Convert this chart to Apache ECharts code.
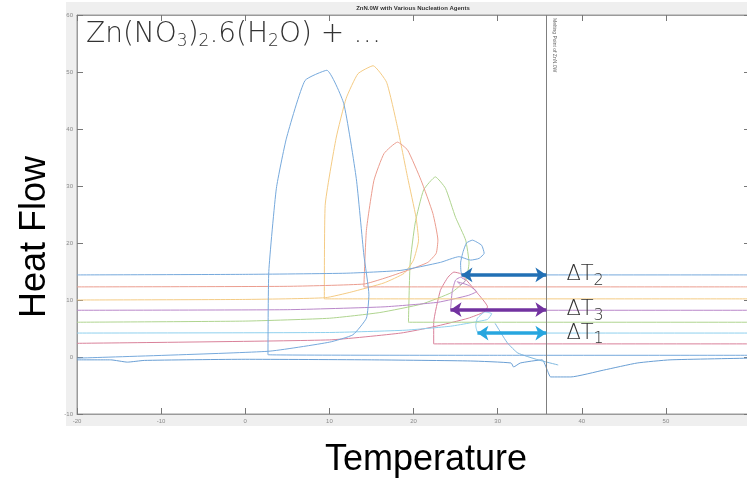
<!DOCTYPE html>
<html>
<head>
<meta charset="utf-8">
<script src="https://cdn.jsdelivr.net/npm/echarts@6/dist/echarts.min.js"></script>
<style>
html, body { margin: 0; padding: 0; background: #fff; }
#main { width: 747px; height: 479px; }
</style>
</head>
<body>
<div id="main"></div>
<script>
var xTicks = [-20, -10, 0, 10, 20, 30, 40, 50, 60];
var yTicks = [-10, 0, 10, 20, 30, 40, 50, 60];

// DSC cooling runs, [temperature, heat flow]
var runBlue = [[60, 0.3], [30, 0.3], [2.7, 0.4], [2.8, 15], [3.7, 29.6], [4.9, 38.4], [7.1, 48.5], [9.7, 50.3], [11.7, 44.5], [13.2, 31.3], [14.1, 17.9], [14.7, 10.9], [14.4, 6.8], [12.8, 3.9], [10, 2.6], [2.7, 1.0], [-20, -0.2]];
var runYellow = [[60, 10.2], [9.4, 10.2], [9.5, 26.6], [10.8, 38.4], [12.0, 45.4], [13.4, 49.7], [15.2, 51.1], [16.8, 48.2], [18.1, 40.3], [19.3, 31.5], [20.3, 24.5], [20.6, 20.5], [20.0, 17], [18.9, 14.7], [16.5, 13], [12.6, 11.4], [9.5, 10.4], [0, 10.1], [-20, 10.0]];
var runOrange = [[60, 12.3], [14.1, 12.3], [14.4, 22.2], [15.3, 31], [16.5, 35.7], [18.1, 37.7], [19.3, 36.3], [20.9, 31], [22.3, 25.2], [22.9, 20.5], [22.7, 18.2], [21.7, 16.6], [19.3, 15.2], [16.5, 13.8], [14.1, 12.8], [5, 12.4], [-20, 12.3]];
var runGreen = [[60, 6.1], [19.4, 6.1], [19.6, 16.5], [20.2, 23.5], [21.2, 29.3], [22.6, 31.6], [23.8, 29.6], [25, 24.5], [26.2, 20.5], [26.6, 16.5], [26.2, 13.5], [24.5, 11.3], [21, 9.3], [16, 7.8], [10, 6.8], [0, 6.3], [-20, 6.1]];
var runBlueSmall = [[60, 14.4], [25.8, 14.4], [25.6, 16.5], [25.9, 18.5], [26.3, 20.0], [27.0, 20.5], [28.1, 19.6], [28.4, 18.2], [27.8, 17.3], [26.8, 17.0], [25.4, 17.6], [23.2, 16.6], [18.5, 15.2], [12, 14.7], [0, 14.5], [-20, 14.4]];
var runPurple = [[60, 8.2], [24.4, 8.2], [24.6, 11.5], [25.0, 13.5], [25.6, 14.0], [26.2, 13.4], [25.6, 12.7], [25.2, 13.2], [26.5, 12.6], [27.5, 11.5], [26.5, 10.8], [22.9, 9.6], [16.5, 8.8], [5, 8.3], [-20, 8.2]];
var runRed = [[60, 2.3], [22.4, 2.3], [22.4, 6.0], [23.2, 11.7], [24.1, 14.0], [24.8, 14.9], [25.6, 14.6], [27.6, 11.2], [28.8, 8.8], [28.4, 7.9], [26.5, 6.8], [22.4, 5.3], [18.5, 4.2], [10, 3.0], [-20, 2.4]];
var runCyan = [[60, 4.2], [27.7, 4.2], [27.4, 5.5], [27.6, 6.8], [28.5, 7.9], [29.3, 7.6], [28.8, 6.6], [26.8, 6.0], [24.4, 5.4], [19, 4.7], [10, 4.3], [-20, 4.2]];
var runCyanTail = [[29.7, 5.9], [30.7, 3.5], [31.2, 2.4], [32.4, 0.7], [34.8, -0.5], [37.2, -1.4]];
var runBase = [[-20, -0.5], [-16, -0.5], [-14, -0.9], [-12, -0.6], [0, -0.4], [15, -0.5], [26.8, -0.7], [31.6, -1.05], [31.9, -1.75], [32.7, -1.05], [35.3, -0.5], [35.9, -2.3], [36.3, -3.5], [38.7, -3.5], [42.6, -2.3], [46.6, -1.05], [50.5, -0.5], [60, -0.2]];

var meltingPoint = 35.8;
// supercooling arrows
var arrowNames = ['2', '3', '1'];
var arrowStart = [25.7, 24.4, 27.6];
var arrowLevel = [14.4, 8.3, 4.2];

var chart = echarts.init(document.getElementById('main'));

var tickLabel = { color: '#8a8a8a', fontSize: 6, margin: 4, fontFamily: 'Liberation Sans' };
var frame = { show: true, onZero: false, lineStyle: { color: '#9a9a9a', width: 1 } };
var tick = { show: true, inside: true, length: 6, lineStyle: { color: '#777' } };

function run(data, color) {
  return {
    type: 'line',
    data: data,
    showSymbol: false,
    symbol: 'none',
    smooth: 0.15,
    lineStyle: { color: color, width: 1 },
    z: 3
  };
}

var series = [
  run(runBase, '#6a9fd4'),
  run(runRed, '#d9819a'),
  run(runCyan, '#8fd0ee'),
  run(runCyanTail, '#7fb9e0'),
  run(runGreen, '#afd48f'),
  run(runPurple, '#b987c9'),
  run(runYellow, '#f4cb84'),
  run(runOrange, '#eb9d8f'),
  run(runBlueSmall, '#76a9dc'),
  run(runBlue, '#76a9dc')
];

series.push({
  type: 'line',
  data: [],
  markLine: {
    silent: true,
    symbol: 'none',
    animation: false,
    label: { show: false },
    lineStyle: { color: '#7f7f7f', width: 1, type: 'solid' },
    data: [{ xAxis: meltingPoint }]
  }
});

var arrowColors = ['#2270b5', '#7232a0', '#27a6df'];
for (var i = 0; i < arrowNames.length; i++) {
  series.push({
    type: 'line',
    data: [],
    z: 5,
    markLine: {
      silent: true,
      animation: false,
      symbol: ['arrow', 'arrow'],
      symbolSize: [11, 11],
      lineStyle: { color: arrowColors[i], width: 3.5, type: 'solid' },
      label: {
        show: true,
        position: 'end',
        distance: 20,
        formatter: '{n|ΔT}{s|' + arrowNames[i] + '}',
        rich: {
          n: { fontSize: 21, color: '#333', fontFamily: 'DejaVu Sans', fontWeight: 200 },
          s: { fontSize: 16, color: '#333', fontFamily: 'DejaVu Sans', fontWeight: 200, padding: [12, 0, 0, 0] }
        }
      },
      data: [[{ coord: [arrowStart[i], arrowLevel[i]] }, { coord: [meltingPoint, arrowLevel[i]] }]]
    }
  });
}

var option = {
  animation: false,
  backgroundColor: '#fff',
  grid: {
    left: 77,
    right: -3,
    top: 15,
    bottom: 65,
    outerBoundsMode: 'none',
    show: true,
    backgroundColor: '#fff',
    borderColor: '#9a9a9a',
    borderWidth: 1
  },
  xAxis: [{
    type: 'value',
    min: xTicks[0],
    max: xTicks[xTicks.length - 1],
    interval: xTicks[1] - xTicks[0],
    axisLine: frame,
    axisTick: tick,
    splitLine: { show: false },
    axisLabel: tickLabel
  }, {
    type: 'value',
    position: 'top',
    min: xTicks[0],
    max: xTicks[xTicks.length - 1],
    interval: xTicks[1] - xTicks[0],
    axisLine: frame,
    axisTick: tick,
    splitLine: { show: false },
    axisLabel: { show: false }
  }],
  yAxis: [{
    type: 'value',
    min: yTicks[0],
    max: yTicks[yTicks.length - 1],
    interval: yTicks[1] - yTicks[0],
    axisLine: frame,
    axisTick: tick,
    splitLine: { show: false },
    axisLabel: tickLabel
  }, {
    type: 'value',
    position: 'right',
    min: yTicks[0],
    max: yTicks[yTicks.length - 1],
    interval: yTicks[1] - yTicks[0],
    axisLine: frame,
    axisTick: tick,
    splitLine: { show: false },
    axisLabel: { show: false }
  }],
  graphic: [{
    type: 'rect',
    z: -10,
    silent: true,
    shape: { x: 66, y: 2, width: 690, height: 424 },
    style: { fill: '#efefef' }
  }, {
    type: 'text',
    x: 413,
    y: 8,
    style: {
      text: 'ZnN.0W with Various Nucleation Agents',
      fontSize: 6,
      fontWeight: 'bold',
      fill: '#333',
      align: 'center',
      verticalAlign: 'middle',
      fontFamily: 'Liberation Sans'
    }
  }, {
    type: 'text',
    x: 557,
    y: 18,
    rotation: -Math.PI / 2,
    style: {
      text: 'Melting Point of ZnN.0W',
      fontSize: 5,
      fill: '#666',
      align: 'left',
      verticalAlign: 'top',
      fontFamily: 'Liberation Sans'
    }
  }, {
    type: 'text',
    x: 86,
    y: 19,
    z: 10,
    style: {
      text: '{n|Zn(NO}{s|3}{n|)}{s|2}{n|.6(H}{s|2}{n|O) + …}',
      rich: {
        n: { fontSize: 28, fill: '#333', fontFamily: 'DejaVu Sans', fontWeight: 200 },
        s: { fontSize: 17, fill: '#333', fontFamily: 'DejaVu Sans', fontWeight: 200, padding: [14, 0, 0, 0] }
      }
    }
  }, {
    type: 'text',
    x: 35,
    y: 237,
    rotation: Math.PI / 2,
    style: {
      text: 'Heat Flow',
      fontSize: 36,
      fill: '#000',
      align: 'center',
      verticalAlign: 'middle',
      fontFamily: 'Liberation Sans'
    }
  }, {
    type: 'text',
    x: 426,
    y: 460,
    style: {
      text: 'Temperature',
      fontSize: 36,
      fill: '#000',
      align: 'center',
      verticalAlign: 'middle',
      fontFamily: 'Liberation Sans'
    }
  }],
  series: series
};
chart.setOption(option);
</script>
</body>
</html>
